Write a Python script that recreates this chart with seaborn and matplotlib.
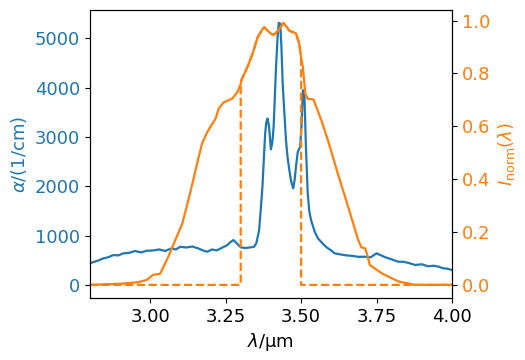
import numpy as np
import matplotlib
matplotlib.use("Agg")
import matplotlib.pyplot as plt
import seaborn as sns

# absorption spectrum (blue)
lam_abs = [2.800, 2.815, 2.830, 2.845, 2.860, 2.878, 2.895, 2.910, 2.930, 2.950,
           2.970, 2.989, 3.010, 3.030, 3.050, 3.070, 3.085, 3.100, 3.120, 3.140,
           3.160, 3.175, 3.189, 3.205, 3.220, 3.240, 3.256, 3.266, 3.276, 3.286,
           3.300, 3.315, 3.330, 3.344, 3.352, 3.361, 3.366, 3.372, 3.377, 3.381,
           3.385, 3.389, 3.394, 3.400, 3.405, 3.409, 3.413, 3.417, 3.422, 3.426,
           3.431, 3.435, 3.439, 3.445, 3.450, 3.455, 3.461, 3.467, 3.474, 3.479,
           3.483, 3.489, 3.497, 3.502, 3.506, 3.511, 3.516, 3.522, 3.527, 3.533,
           3.545, 3.556, 3.570, 3.585, 3.600, 3.611, 3.630, 3.650, 3.670, 3.690,
           3.711, 3.730, 3.750, 3.765, 3.780, 3.800, 3.822, 3.840, 3.860, 3.878,
           3.900, 3.920, 3.940, 3.956, 3.970, 3.985, 4.000]
alpha = [440, 470, 500, 540, 560, 607, 600, 640, 650, 690,
         660, 694, 700, 720, 690, 740, 720, 775, 760, 780,
         740, 700, 674, 720, 700, 760, 810, 870, 911, 850,
         763, 750, 760, 775, 850, 1113, 1500, 1990, 2600, 3070,
         3300, 3374, 3204, 2747, 2900, 3204, 3800, 4419, 5000, 5310,
         5297, 4800, 4083, 3450, 2935, 2600, 2328, 2100, 1957, 2150,
         2395, 2698, 2800, 3300, 3947, 3846, 2800, 1856, 1500, 1316,
         1080, 945, 850, 760, 700, 642, 620, 600, 590, 570,
         573, 560, 642, 600, 560, 520, 472, 470, 440, 405,
         420, 380, 390, 370, 340, 330, 304]

# normalised intensity (orange)
lam_int = [2.800, 2.900, 2.960, 2.989, 3.010, 3.033, 3.060, 3.093, 3.106, 3.133,
           3.160, 3.172, 3.189, 3.217, 3.227, 3.243, 3.272, 3.289, 3.300, 3.302,
           3.322, 3.339, 3.356, 3.372, 3.378, 3.400, 3.411, 3.428, 3.441, 3.450,
           3.461, 3.483, 3.494, 3.500, 3.506, 3.514, 3.522, 3.541, 3.567, 3.589,
           3.622, 3.656, 3.689, 3.700, 3.713, 3.728, 3.767, 3.822, 3.877, 3.950,
           4.000]
intensity = [0.000, 0.004, 0.010, 0.019, 0.038, 0.042, 0.106, 0.196, 0.230, 0.350,
             0.480, 0.535, 0.578, 0.630, 0.667, 0.690, 0.705, 0.730, 0.760, 0.774,
             0.824, 0.874, 0.937, 0.968, 0.975, 0.950, 0.947, 0.968, 0.991, 0.980,
             0.962, 0.952, 0.912, 0.860, 0.824, 0.723, 0.704, 0.702, 0.623, 0.547,
             0.420, 0.295, 0.170, 0.142, 0.138, 0.075, 0.044, 0.013, 0.000, 0.000,
             0.000]

# filter window
win_lo, win_hi = 3.3, 3.5

lam_int = np.array(lam_int)
intensity = np.array(intensity)
inside = (lam_int >= win_lo) & (lam_int <= win_hi)
lam_win = np.concatenate([[2.8, win_lo], lam_int[inside], [win_hi, 4.0]])
int_win = np.concatenate([[0, 0], intensity[inside], [0, 0]])

plt.rcParams["font.size"] = 13
fig, ax = plt.subplots(figsize=(5.25, 3.6), dpi=100)
fig.subplots_adjust(left=0.171, right=0.861, top=0.972, bottom=0.172)

sns.lineplot(x=lam_abs, y=alpha, ax=ax, color="tab:blue", lw=1.6,
             sort=False, estimator=None)
ax.set_xlim(2.8, 4.0)
ax.set_ylim(-265, 5570)
ax.set_xticks([3.0, 3.25, 3.5, 3.75, 4.0])
ax.set_xticklabels(["3.00", "3.25", "3.50", "3.75", "4.00"])
ax.set_yticks([0, 1000, 2000, 3000, 4000, 5000])
ax.set_xlabel(r"$\lambda$/μm")
ax.set_ylabel(r"$\alpha/(1/\mathrm{cm})$", color="tab:blue")
ax.tick_params(axis="y", labelcolor="tab:blue")

ax2 = ax.twinx()
sns.lineplot(x=lam_int, y=intensity, ax=ax2, color="tab:orange", lw=1.6,
             sort=False, estimator=None)
sns.lineplot(x=lam_win, y=int_win, ax=ax2, color="tab:orange", lw=1.6,
             sort=False, estimator=None, linestyle="--")
ax2.set_ylim(-0.05, 1.04)
ax2.set_yticks([0.0, 0.2, 0.4, 0.6, 0.8, 1.0])
ax2.set_ylabel(r"$I_\mathrm{norm}(\lambda)$", color="tab:orange")
ax2.tick_params(axis="y", labelcolor="tab:orange")

fig.savefig("out.png", dpi=100)
